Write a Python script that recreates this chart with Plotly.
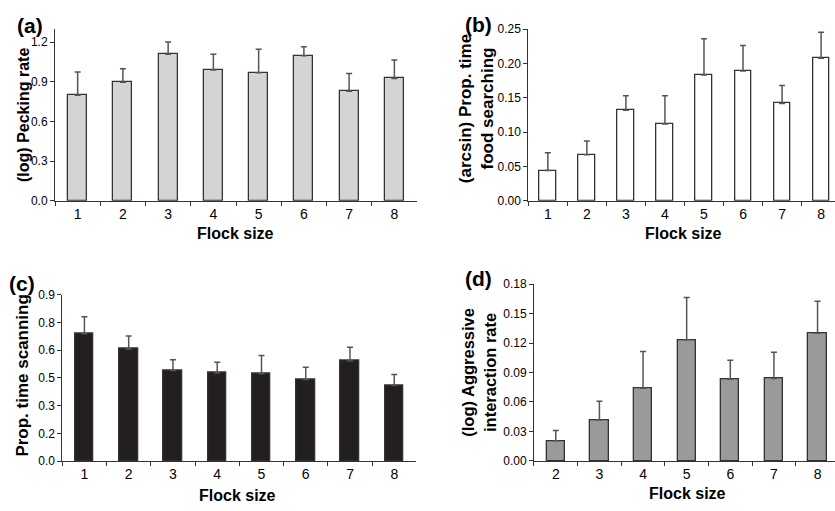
import plotly.graph_objects as go

# ---- data ----
flock_a = [1, 2, 3, 4, 5, 6, 7, 8]
pecking = [0.80, 0.897, 1.11, 0.99, 0.97, 1.098, 0.83, 0.926]
pecking_err = [0.175, 0.103, 0.093, 0.12, 0.177, 0.068, 0.133, 0.14]

flock_b = [1, 2, 3, 4, 5, 6, 7, 8]
searching = [0.044, 0.067, 0.132, 0.112, 0.183, 0.189, 0.1416, 0.2075]
searching_err = [0.026, 0.020, 0.021, 0.041, 0.053, 0.037, 0.0264, 0.038]

flock_c = [1, 2, 3, 4, 5, 6, 7, 8]
scanning = [0.688, 0.606, 0.490, 0.476, 0.473, 0.441, 0.541, 0.410]
scanning_err = [0.093, 0.070, 0.058, 0.058, 0.098, 0.067, 0.075, 0.059]

flock_d = [2, 3, 4, 5, 6, 7, 8]
aggressive = [0.0205, 0.0416, 0.074, 0.1233, 0.0833, 0.084, 0.130]
aggressive_err = [0.0105, 0.0192, 0.0374, 0.0432, 0.0192, 0.0267, 0.0325]

yticks_c = [0, 0.15, 0.3, 0.45, 0.6, 0.75, 0.9]
yticklabels_c = ["0.0", "0.2", "0.3", "0.5", "0.6", "0.8", "0.9"]

FONT = "Liberation Sans, Arial, Helvetica, sans-serif"

fig = go.Figure()

def add_bars(x, y, err, color, xa, ya):
    fig.add_trace(go.Bar(
        x=x, y=y, width=0.42, xaxis=xa, yaxis=ya,
        marker=dict(color=color, line=dict(color="#333333", width=1.3)),
        error_y=dict(type="data", array=err, arrayminus=[0] * len(err), symmetric=False,
                     color="#555555", thickness=1.5, width=3),
        showlegend=False, hoverinfo="skip"))

add_bars(flock_a, pecking, pecking_err, "#d3d4d5", "x", "y")
add_bars(flock_b, searching, searching_err, "#ffffff", "x2", "y2")
add_bars(flock_c, scanning, scanning_err, "#231f20", "x3", "y3")
add_bars(flock_d, aggressive, aggressive_err, "#999a9c", "x4", "y4")

def xaxis(domain, rng, vals, anchor):
    return dict(domain=domain, range=rng, anchor=anchor, tickmode="array", tickvals=vals,
                ticktext=[str(v) for v in vals], ticks="", showgrid=False, zeroline=False,
                showline=True, linecolor="#333333", linewidth=1,
                tickfont=dict(family=FONT, size=14, color="black"),
                minor=dict(tickmode="array", tickvals=[v + 0.5 for v in vals[:-1]] + [vals[0] - 0.5],
                           ticks="outside", ticklen=4, tickcolor="#333333", tickwidth=1, showgrid=False))

def yaxis(domain, rng, vals, text, anchor):
    return dict(domain=domain, range=rng, anchor=anchor, tickmode="array", tickvals=vals,
                ticktext=text, ticks="outside", ticklen=4, tickcolor="#333333", tickwidth=1,
                showgrid=False, zeroline=False, showline=True, linecolor="#333333", linewidth=1,
                tickfont=dict(family=FONT, size=12, color="black"))

ya_vals = [0, 0.3, 0.6, 0.9, 1.2]
yb_vals = [0, 0.05, 0.10, 0.15, 0.20, 0.25]
yd_vals = [0, 0.03, 0.06, 0.09, 0.12, 0.15, 0.18]

fig.update_layout(
    width=835, height=511, margin=dict(l=0, r=0, t=0, b=0),
    paper_bgcolor="white", plot_bgcolor="white", bargap=0,
    xaxis=xaxis([0.0659, 0.4994], [0.5, 8.5], flock_a, "y"),
    yaxis=yaxis([0.610, 0.9556], [0, 1.3], ya_vals, ["%.1f" % v for v in ya_vals], "x"),
    xaxis2=xaxis([0.6327, 1.0], [0.5, 8.356], flock_b, "y2"),
    yaxis2=yaxis([0.610, 0.9556], [0, 0.25], yb_vals, ["%.2f" % v for v in yb_vals], "x2"),
    xaxis3=xaxis([0.0746, 0.4987], [0.5, 8.5], flock_c, "y3"),
    yaxis3=yaxis([0.0861, 0.4213], [0, 0.9], yticks_c, yticklabels_c, "x3"),
    xaxis4=xaxis([0.6395, 1.0], [1.5, 8.4], flock_d, "y4"),
    yaxis4=yaxis([0.0867, 0.4423], [0, 0.18], yd_vals, ["%.2f" % v for v in yd_vals], "x4"),
)

def ann(x, y, text, size, angle=0):
    fig.add_annotation(x=x / 835, y=1 - y / 511, xref="paper", yref="paper", text=text,
                       showarrow=False, textangle=angle, xanchor="center", yanchor="middle",
                       font=dict(family=FONT, size=size, color="black"))

# panel letters
ann(30, 19, "<b>(a)</b>", 21)
ann(478, 18, "<b>(b)</b>", 21)
ann(22, 284, "<b>(c)</b>", 21)
ann(478, 279, "<b>(d)</b>", 21)

# y titles
ann(24, 111, "<b>(log) Pecking rate</b>", 16, -90)
ann(476, 104, "<b>(arcsin) Prop. time<br>food searching</b>", 17, -90)
ann(23, 379, "<b>Prop. time scanning</b>", 17, -90)
ann(479, 375, "<b>(log) Aggressive<br>interaction rate</b>", 16.5, -90)

# x titles
ann(236, 233, "<b>Flock size</b>", 16)
ann(683, 233, "<b>Flock size</b>", 16)
ann(238, 502, "<b>Flock size</b>", 16)
ann(687, 500, "<b>Flock size</b>", 16)

fig.write_html("out.html", config={"displayModeBar": False},
               post_script="document.body.style.margin='0';document.body.style.overflow='hidden';")
